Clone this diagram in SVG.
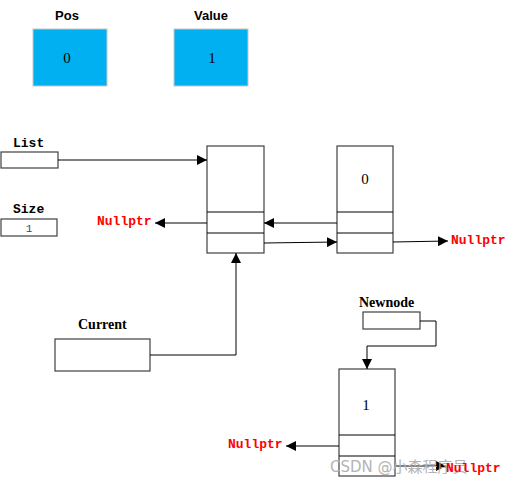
<svg xmlns="http://www.w3.org/2000/svg" width="516" height="485" viewBox="0 0 516 485">
<style>
.box{fill:#fff;stroke:#404040;stroke-width:1.2}
.var{fill:#00b0f0;stroke:#c8c8c8;stroke-width:1}
.lbl{font-family:"Liberation Mono",monospace;font-weight:bold;font-size:13px;fill:#000}
.lbls{font-family:"Liberation Serif",serif;font-weight:bold;font-size:14px;fill:#000}
.num{font-family:"Liberation Serif",serif;font-size:15px;fill:#000;text-anchor:middle}
.null{font-family:"Liberation Mono",monospace;font-weight:bold;font-size:13px;fill:#ff0000}
.con{fill:none;stroke:#000;stroke-width:1}
.wm{font-family:"DejaVu Sans","Noto Sans CJK SC",sans-serif;font-size:15px;fill:#b4b4b4}
</style>
<defs>
<marker id="ah" viewBox="0 0 10 10" refX="10" refY="5" markerWidth="10" markerHeight="10" markerUnits="userSpaceOnUse" orient="auto">
<path d="M0,0 L10,5 L0,10 z" fill="#000"/>
</marker>
</defs>
<rect width="516" height="485" fill="#fff"/>
<g id="pos">
<text x="67" y="20" text-anchor="middle" font-family="Liberation Sans,sans-serif" font-weight="bold" font-size="13">Pos</text>
<rect class="var" x="33" y="29" width="74" height="57"/>
<text class="num" x="67" y="63">0</text>
</g>
<g id="value">
<text x="211" y="20" text-anchor="middle" font-family="Liberation Sans,sans-serif" font-weight="bold" font-size="13">Value</text>
<rect class="var" x="174" y="29" width="74" height="57"/>
<text class="num" x="212" y="63">1</text>
</g>
<g id="list">
<text class="lbl" x="13" y="147">List</text>
<rect class="box" x="1" y="152" width="57" height="16"/>
</g>
<g id="size">
<text class="lbl" x="13" y="213">Size</text>
<rect class="box" x="1" y="219" width="56" height="17"/>
<text x="29" y="232" text-anchor="middle" font-family="Liberation Mono,monospace" font-size="11" fill="#1f4e79">1</text>
</g>
<g id="nodeA">
<rect class="box" x="207" y="146" width="57" height="107"/>
<line class="con" x1="207" y1="212" x2="264" y2="212" stroke="#404040"/>
<line class="con" x1="207" y1="233" x2="264" y2="233" stroke="#404040"/>
</g>
<g id="nodeB">
<rect class="box" x="337" y="146" width="56" height="107"/>
<line class="con" x1="337" y1="212" x2="393" y2="212" stroke="#404040"/>
<line class="con" x1="337" y1="233" x2="393" y2="233" stroke="#404040"/>
<text class="num" x="365" y="184">0</text>
</g>
<g id="current">
<text class="lbls" x="78" y="329">Current</text>
<rect class="box" x="55" y="339" width="95" height="32"/>
</g>
<g id="newnode">
<text class="lbls" x="359" y="307">Newnode</text>
<rect class="box" x="363" y="312" width="57" height="17"/>
</g>
<g id="nodeC">
<rect class="box" x="339" y="369" width="56" height="107"/>
<line class="con" x1="339" y1="435" x2="395" y2="435" stroke="#404040"/>
<line class="con" x1="339" y1="456" x2="395" y2="456" stroke="#404040"/>
<text class="num" x="366" y="410">1</text>
</g>
<g id="nulls">
<text class="null" x="97" y="225">Nullptr</text>
<text class="null" x="451" y="244">Nullptr</text>
<text class="null" x="228" y="448">Nullptr</text>
</g>
<g id="connectors">
<line class="con" x1="58" y1="160" x2="207" y2="160" marker-end="url(#ah)"/>
<line class="con" x1="207" y1="223" x2="155" y2="223" marker-end="url(#ah)"/>
<line class="con" x1="337" y1="223" x2="264" y2="223" marker-end="url(#ah)"/>
<line class="con" x1="264" y1="243" x2="337" y2="242" marker-end="url(#ah)"/>
<line class="con" x1="393" y1="242" x2="448" y2="241" marker-end="url(#ah)"/>
<polyline class="con" points="150,355 236,355 236,253" marker-end="url(#ah)"/>
<polyline class="con" points="420,321 436,321 436,346 367,346 367,369" marker-end="url(#ah)"/>
<line class="con" x1="339" y1="446" x2="286" y2="446" marker-end="url(#ah)"/>
<line class="con" x1="395" y1="466" x2="446" y2="466" marker-end="url(#ah)"/>
</g>
<text class="wm" x="330" y="472">CSDN @小森程序员</text>
<text class="null" x="446" y="472">Nullptr</text>
</svg>
